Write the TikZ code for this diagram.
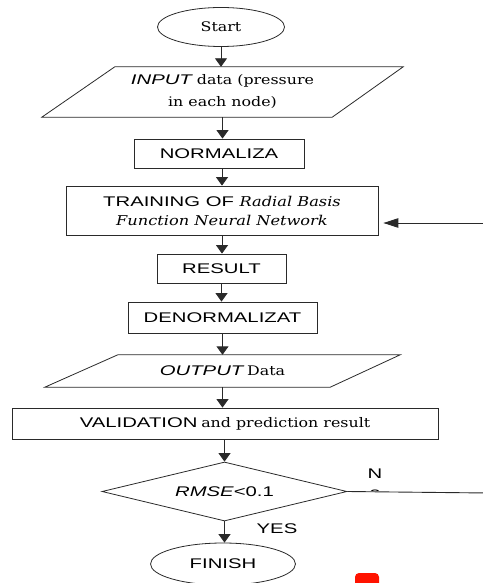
\documentclass[tikz,border=0pt]{standalone}
\usepackage{fontspec}
\setmainfont{DejaVu Serif}[FakeStretch=1.2]
\newfontfamily\gsans{Liberation Sans}[FakeStretch=1.45]
\usetikzlibrary{shapes.geometric,arrows.meta,calc}
\newcommand{\srtxt}{\rmfamily\fontsize{13.2}{19}\selectfont}
\newcommand{\sftxt}{\gsans\fontsize{14}{17}\selectfont}
\definecolor{ink}{HTML}{2A2A2A}
\begin{document}
\begin{tikzpicture}[x=1pt,y=-1pt,
  outl/.style={draw=ink, line width=0.8pt},
  boxnode/.style={outl, rectangle, inner sep=0pt, align=center},
  termnode/.style={outl, ellipse, inner sep=0pt, align=center},
  ionode/.style={rectangle, inner sep=0pt, align=center},
  arr/.style={draw=ink, line width=0.9pt, -{Triangle[length=8.5pt,width=12pt]}},
  longarr/.style={draw=ink, line width=0.9pt, -{Triangle[length=15pt,width=9.5pt]}},
  lnk/.style={draw=ink, line width=0.9pt}]
\useasboundingbox (0,0) rectangle (482,583);

% nodes
\node[termnode, minimum width=127, minimum height=39] (start) at (221,27) {\srtxt Start};
\node[ionode, minimum width=361, minimum height=50, font=\srtxt] (in) at (222.5,92)
  {{\sftxt\itshape INPUT} data (pressure\\[3pt] in each node)};
\node[boxnode, minimum width=170, minimum height=29] (norm) at (219,153.5) {\sftxt NORMALIZA};
\node[boxnode, minimum width=312, minimum height=49, font=\sftxt] (train) at (222,210.5)
  {TRAINING OF {\rmfamily\itshape\fontsize{13.5}{17}\selectfont Radial Basis}\\[2pt]
   \rmfamily\itshape\fontsize{13.5}{17}\selectfont Function Neural Network};
\node[boxnode, minimum width=129, minimum height=29] (res) at (221.5,268.5) {\sftxt RESULT};
\node[boxnode, minimum width=189, minimum height=31] (den) at (222.5,317.5) {\sftxt DENORMALIZAT};
\node[ionode, minimum width=355, minimum height=32] (out) at (222.5,371)
  {{\sftxt\itshape OUTPUT} \srtxt Data};
\node[boxnode, minimum width=426, minimum height=31] (val) at (225,423.5)
  {{\sftxt VALIDATION} \srtxt and prediction result};
\node[outl, diamond, shape aspect=4.15, inner sep=0pt, minimum width=245, minimum height=59] (dec) at (224.5,491.5) {};
\node[inner sep=0pt] (dect) at (dec.center) {{\sftxt\itshape RMSE}{\sftxt<0.1}};
\node[termnode, minimum width=145, minimum height=42] (fin) at (223,564) {\sftxt FINISH};

% parallelogram outlines
\draw[outl] ($(in.north west)+(73,0)$) -- (in.north east) -- ($(in.south east)+(-71,0)$) -- (in.south west) -- cycle;
\draw[outl] ($(out.north west)+(73,0)$) -- (out.north east) -- ($(out.south east)+(-70,0)$) -- (out.south west) -- cycle;

% labels
\node[inner sep=0pt] (yes) at (277,529) {\sftxt YES};
\node[inner sep=0pt] (nlab) at (375,474) {\sftxt N};
\begin{scope}
  \clip (360,480) rectangle (390,490);
  \node[inner sep=0pt] (olab) at (375,494) {\sftxt o};
\end{scope}

% connectors
\draw[arr] (start.south) -- (start.south |- in.north);
\draw[arr] (in.south) -- (in.south |- norm.north);
\draw[arr] (norm.south -| train.north) -- (train.north);
\draw[arr] (train.south) -- (train.south |- res.north);
\draw[arr] (res.south) -- (res.south |- den.north);
\draw[arr] (den.south) -- (den.south |- out.north);
\draw[arr] (out.south) -- (out.south |- val.north);
\draw[arr] (val.south -| dec.north) -- (dec.north);
\draw[arr] (dec.south) -- (dec.south |- fin.north);

\coordinate (fbA) at (488,493);
\coordinate (fbB) at (488,223);
\draw[lnk] (dec.east) -- (fbA) -- (fbB);
\draw[longarr] (fbB) -- ($(train.east |- fbB)+(5,0)$);

% red mark
\fill[red!85!orange, rounded corners=4pt] (355,573) rectangle (379,595);
\end{tikzpicture}
\end{document}
